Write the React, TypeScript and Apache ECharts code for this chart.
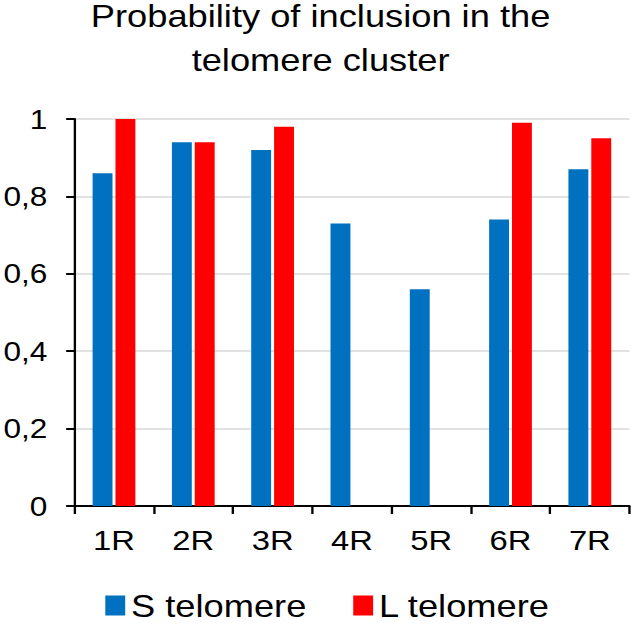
import React, { useEffect, useRef } from "react";
import * as echarts from "echarts";

const categories = ["1R", "2R", "3R", "4R", "5R", "6R", "7R"];
const sTelomere = [0.86, 0.94, 0.92, 0.73, 0.56, 0.74, 0.87];
const lTelomere = [1.0, 0.94, 0.98, 0, 0, 0.99, 0.95];
const seriesNames = ["S telomere", "L telomere"];
const titleText = "Probability of inclusion in the\ntelomere cluster";

const FONT = "'Liberation Sans', Arial, sans-serif";
// The reference image is stretched horizontally; reproduce with a CSS scaleX.
const STRETCH = 1.17;
const W = 633;
const H = 626;

export default function App() {
  const ref = useRef<HTMLDivElement>(null);
  useEffect(() => {
    if (!ref.current) return;
    const chart = echarts.init(ref.current, null, { renderer: "svg" });
    chart.setOption({
      animation: false,
      backgroundColor: "#ffffff",
      title: {
        text: titleText,
        left: 274,
        top: -6,
        textAlign: "center",
        padding: 0,
        textStyle: {
          fontFamily: FONT,
          fontSize: 31,
          lineHeight: 44,
          fontWeight: "normal",
          color: "#000000",
        },
      },
      legend: {
        data: seriesNames,
        top: 585,
        left: 85,
        icon: "rect",
        itemWidth: 17,
        itemHeight: 20,
        itemGap: 40,
        textStyle: { fontFamily: FONT, fontSize: 31, color: "#000000" },
      },
      grid: { left: 59, right: 3, top: 119, bottom: 120, containLabel: false },
      xAxis: {
        type: "category",
        data: categories,
        axisLine: { lineStyle: { color: "#000000", width: 2 } },
        axisTick: { show: true, length: 8, lineStyle: { color: "#000000", width: 2 } },
        axisLabel: { fontFamily: FONT, fontSize: 28, color: "#000000", margin: 20 },
      },
      yAxis: {
        type: "value",
        min: 0,
        max: 1,
        interval: 0.2,
        axisLine: { show: true, lineStyle: { color: "#000000", width: 2 } },
        axisTick: { show: true, length: 7, lineStyle: { color: "#000000", width: 2 } },
        axisLabel: {
          fontFamily: FONT,
          fontSize: 27,
          color: "#000000",
          margin: 23,
          formatter: (v: number) => String(Math.round(v * 10) / 10).replace(".", ","),
        },
        splitLine: { lineStyle: { color: "#d9d9d9", width: 1.5 } },
      },
      series: [
        {
          name: seriesNames[0],
          type: "bar",
          data: sTelomere,
          barWidth: 17,
          barGap: "15%",
          itemStyle: { color: "#0070c0" },
        },
        {
          name: seriesNames[1],
          type: "bar",
          data: lTelomere,
          barWidth: 17,
          itemStyle: { color: "#ff0000" },
        },
      ],
    });
    return () => chart.dispose();
  }, []);
  return (
    <div
      style={{
        position: "absolute",
        left: 0,
        top: 0,
        width: W,
        height: H,
        overflow: "hidden",
        background: "#ffffff",
      }}
    >
      <div
        ref={ref}
        style={{
          width: Math.round(W / STRETCH),
          height: H,
          transform: `scaleX(${STRETCH})`,
          transformOrigin: "0 0",
        }}
      />
    </div>
  );
}
